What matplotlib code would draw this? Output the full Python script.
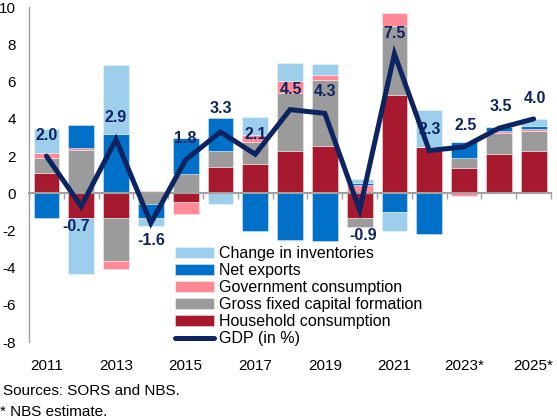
import numpy as np
import matplotlib.pyplot as plt

plt.rcParams['font.family'] = ['Liberation Sans', 'DejaVu Sans']
plt.rcParams['axes.unicode_minus'] = False

# Contributions to GDP growth (pp)
years = ['2011', '2012', '2013', '2014', '2015', '2016', '2017', '2018',
         '2019', '2020', '2021', '2022', '2023*', '2024*', '2025*']
household = [1.1, -1.35, -1.3, 0.0, -0.45, 1.4, 1.6, 2.25, 2.55, -1.35, 5.3, 2.5, 1.35, 2.1, 2.3]
gfcf = [0.8, 2.35, -2.35, -0.6, 1.05, 0.85, 1.15, 3.15, 3.55, -0.45, 3.7, 0.0, 0.55, 1.15, 1.05]
gov_cons = [0.25, 0.1, -0.4, 0.15, -0.65, 0.0, 0.4, 0.65, 0.25, 0.45, 0.7, 0.0, -0.15, 0.12, 0.1]
net_exports = [-1.35, 1.2, 3.2, -0.75, 1.9, 1.8, -2.0, -2.5, -2.55, 0.09, -1.0, -2.2, 0.85, 0.18, 0.15]
inventories = [1.3, -3.0, 3.7, -0.4, 0.05, -0.6, 0.95, 0.95, 0.6, 0.23, -1.05, 2.0, 0.0, 0.0, 0.4]
gdp = [2.0, -0.7, 2.9, -1.6, 1.8, 3.3, 2.1, 4.5, 4.3, -0.9, 7.5, 2.3, 2.5, 3.5, 4.0]

# label placement relative to the GDP point (data units)
label_dy = [1.1, -1.1, 1.15, -0.95, 1.15, 1.25, 1.05, 1.1, 1.17, -1.38, 1.1, 1.15, 1.13, 1.17, 1.12]
label_dx = [0, -0.14, 0, 0, 0, 0, 0, 0.04, 0, 0.09, 0, 0, 0.04, 0.05, 0.05]

x = np.arange(2011, 2011 + len(years))

fig = plt.figure(figsize=(5.57, 4.19), dpi=100)
ax = fig.add_axes([0.0521, 0.1835, 0.9372, 0.799])

components = [
    (household, '#A6192E', 'Household consumption'),
    (gfcf, '#9B9B9B', 'Gross fixed capital formation'),
    (gov_cons, '#FF8A96', 'Government consumption'),
    (net_exports, '#0070C8', 'Net exports'),
    (inventories, '#9DCEEC', 'Change in inventories'),
]

pos_base = np.zeros(len(x))
neg_base = np.zeros(len(x))
handles = {}
for vals, color, label in components:
    v = np.array(vals, dtype=float)
    base = np.where(v >= 0, pos_base, neg_base)
    bars = ax.bar(x, v, bottom=base, width=0.74, color=color,
                  edgecolor=(1, 1, 1, 0.45), linewidth=0.6, label=label, zorder=1)
    handles[label] = bars
    pos_base += np.clip(v, 0, None)
    neg_base += np.clip(v, None, 0)

line, = ax.plot(x, gdp, color='#0C2461', lw=3.6, solid_joinstyle='miter',
                solid_capstyle='round', label='GDP (in %)', zorder=4)

for xi, g, dx, dy in zip(x, gdp, label_dx, label_dy):
    ax.text(xi + dx, g + dy, f'{g:.1f}', ha='center', va='center',
            fontsize=11.5, fontweight='bold', color='#0C2461', zorder=5)

ax.set_xlim(2010.5, 2025.5)
ax.set_ylim(-8, 10)
ax.set_yticks(np.arange(-8, 11, 2))
ax.set_xticks(x[::2])
ax.set_xticklabels(years[::2])
ax.set_xticks(np.arange(2010.5, 2026, 1), minor=True)

# zero line with category tick marks
ax.spines['top'].set_position(('data', 0))
ax.spines['top'].set_color('#A0A0A0')
ax.spines['top'].set_linewidth(1.5)
ax.spines['top'].set_zorder(3)
ax.spines['bottom'].set_visible(False)
ax.spines['right'].set_visible(False)
ax.spines['left'].set_color('#A0A0A0')
ax.spines['left'].set_linewidth(1.0)

ax.tick_params(axis='x', which='major', length=0, pad=12, labelsize=11,
               top=False, bottom=True)
ax.tick_params(axis='x', which='minor', top=True, bottom=False, direction='in',
               length=4, width=1, color='#A0A0A0')
ax.tick_params(axis='y', length=0, pad=9.5, labelsize=11)

order = ['Change in inventories', 'Net exports', 'Government consumption',
         'Gross fixed capital formation', 'Household consumption']
leg = ax.legend([handles[k] for k in order] + [line], order + ['GDP (in %)'],
                loc='upper left', bbox_to_anchor=(175 / 557, 1 - 246 / 419),
                bbox_transform=fig.transFigure, frameon=False, fontsize=11.5,
                borderpad=0, borderaxespad=0, labelspacing=0.13,
                handlelength=2.45, handleheight=0.65, handletextpad=0.3)

fig.text(3 / 557, 1 - 391 / 419, 'Sources: SORS and NBS.', fontsize=11, va='center')
fig.text(0 / 557, 1 - 412 / 419, '* NBS estimate.', fontsize=11, va='center')

fig.savefig('out.png', dpi=100)
